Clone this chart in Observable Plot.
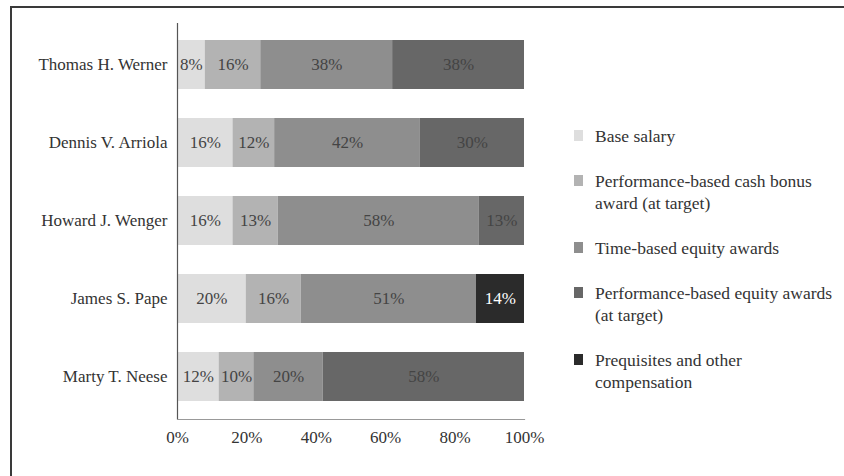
<!DOCTYPE html>
<html>
<head>
<meta charset="utf-8">
<script src="https://cdn.jsdelivr.net/npm/d3@7"></script>
<script src="https://cdn.jsdelivr.net/npm/@observablehq/plot@0.6"></script>
<style>
  html, body { margin: 0; padding: 0; background: #fff; }
  #wrap { position: relative; width: 844px; height: 476px; overflow: hidden; font-family: "Liberation Serif", "DejaVu Serif", serif; }
  #border { position: absolute; left: 10px; top: 6px; width: 900px; height: 600px; border-top: 2px solid #3a3a3a; border-left: 2px solid #3a3a3a; }
  #chart { position: absolute; left: 0; top: 0; }
  #legend { position: absolute; left: 574px; top: 125px; color: #333; font-size: 17.5px; line-height: 22px; }
  .item { position: relative; padding-left: 21px; margin-bottom: 23px; }
  .sw { position: absolute; left: 0; top: 5px; width: 9px; height: 11px; }
  #chart svg text { font-family: "Liberation Serif", serif; }
</style>
</head>
<body>
<div id="wrap">
  <div id="border"></div>
  <div id="chart"></div>
  <div id="legend"></div>
</div>
<script>
const executives = ["Thomas H. Werner", "Dennis V. Arriola", "Howard J. Wenger", "James S. Pape", "Marty T. Neese"];
const categories = [
  "Base salary",
  "Performance-based cash bonus award (at target)",
  "Time-based equity awards",
  "Performance-based equity awards (at target)",
  "Prequisites and other compensation"
];
const legendLines = [
  ["Base salary"],
  ["Performance-based cash bonus", "award (at target)"],
  ["Time-based equity awards"],
  ["Performance-based equity awards", "(at target)"],
  ["Prequisites and other", "compensation"]
];
const colors = ["#dedede", "#b3b3b3", "#8e8e8e", "#676767", "#2b2b2b"];
// percentages per executive, in category order (0 = segment absent)
const baseSalary   = [8, 16, 16, 20, 12];
const cashBonus    = [16, 12, 13, 16, 10];
const timeEquity   = [38, 42, 58, 51, 20];
const perfEquity   = [38, 30, 13, 0, 58];
const prequisites  = [0, 0, 0, 14, 0];
const xTicks = [0, 0.2, 0.4, 0.6, 0.8, 1];

const series = [baseSalary, cashBonus, timeEquity, perfEquity, prequisites];
const data = [];
executives.forEach((name, i) => {
  series.forEach((s, j) => {
    if (s[i] > 0) data.push({name, category: categories[j], value: s[i]});
  });
});

const stackOpts = {x: "value", y: "name", z: "category", offset: "normalize", order: categories};

const plot = Plot.plot({
  width: 570,
  height: 476,
  marginLeft: 177,
  marginRight: 46,
  marginTop: 23,
  marginBottom: 57,
  style: {fontFamily: "Liberation Serif, serif", fontSize: "17px", color: "#333", background: "transparent", overflow: "visible"},
  x: {domain: [0, 1], ticks: xTicks, tickFormat: d3.format(".0%"), tickSize: 0, tickPadding: 11, label: null},
  y: {domain: executives, paddingInner: 0.37, paddingOuter: 0.2, tickSize: 0, tickPadding: 10, label: null},
  color: {domain: categories, range: colors},
  marks: [
    Plot.barX(data, Plot.stackX({...stackOpts, fill: "category"})),
    Plot.text(data, Plot.stackX({
      ...stackOpts,
      text: d => d.value + "%",
      fill: d => d.category === categories[4] ? "#ffffff" : "#444444",
      fontSize: 17
    })),
    Plot.ruleX([0], {stroke: "#555", strokeWidth: 1.2}),
    Plot.frame({anchor: "bottom", stroke: "#999", strokeWidth: 1.2})
  ]
});
document.getElementById("chart").appendChild(plot);

const legend = document.getElementById("legend");
legendLines.forEach((lines, j) => {
  const item = document.createElement("div");
  item.className = "item";
  const sw = document.createElement("div");
  sw.className = "sw";
  sw.style.background = colors[j];
  item.appendChild(sw);
  lines.forEach(t => {
    const l = document.createElement("div");
    l.textContent = t;
    item.appendChild(l);
  });
  legend.appendChild(item);
});
</script>
</body>
</html>
